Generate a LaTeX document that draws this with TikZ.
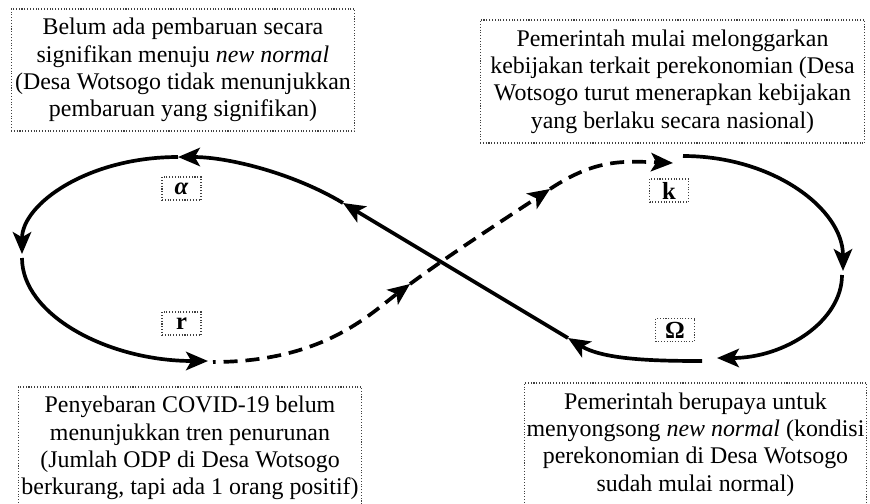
\documentclass[tikz,border=0pt]{standalone}
\usepackage{fontspec}
\setmainfont{Liberation Serif}
\usetikzlibrary{arrows.meta}
\tikzset{
  box/.style={draw=black!75, densely dotted, line width=0.6pt, align=center, inner sep=0pt,
    font=\fontsize{13.6}{15.6}\selectfont},
  lbl/.style={draw=black!75, densely dotted, line width=0.6pt, inner sep=0pt,
    minimum width=0.78cm, minimum height=0.46cm, font=\fontsize{14}{15}\selectfont\bfseries},
  lane/.style={line width=2.1pt, -{Stealth[length=12.5pt,width=10.5pt,inset=3pt]}},
  lanedash/.style={lane, dash pattern=on 8pt off 4.5pt}
}
\begin{document}
\begin{tikzpicture}[x=0.02cm, y=-0.02cm]
    \useasboundingbox (0,0) rectangle (870,504);
    \clip (0,0) rectangle (870,504);
    % text boxes
    \node[box, minimum width=6.88cm, minimum height=2.44cm] (belum) at (183,70)
      {Belum ada pembaruan secara\\ signifikan menuju \textit{new normal}\\
       (Desa Wotsogo tidak menunjukkan\\ pembaruan yang signifikan)};
    \node[box, minimum width=7.7cm, minimum height=2.46cm] (longgar) at (672.5,81.5)
      {Pemerintah mulai melonggarkan\\ kebijakan terkait perekonomian (Desa\\
       Wotsogo turut menerapkan kebijakan\\ yang berlaku secara nasional)};
    \node[box, minimum width=6.88cm, minimum height=2.44cm] (sebar) at (190,448)
      {Penyebaran COVID-19 belum\\ menunjukkan tren penurunan\\
       (Jumlah ODP di Desa Wotsogo\\ berkurang, tapi ada 1 orang positif)};
    \node[box, minimum width=6.86cm, minimum height=2.46cm] (songsong) at (695.5,444.5)
      {Pemerintah berupaya untuk\\ menyongsong \textit{new normal} (kondisi\\
       perekonomian di Desa Wotsogo\\ sudah mulai normal)};
    % phase labels
    \foreach \n/\p/\t in {alpha/{181.5,188.5}/\textit{α}, rr/{181.5,323.5}/r,
                          kk/{669,190.5}/k, omega/{675,330}/Ω}
      \node[lbl] (\n) at (\p) {\t};
    % cycle points
    \coordinate (w0) at (702,361);
    \coordinate (w1) at (568,338);
    \coordinate (w2) at (343,203);
    \coordinate (w3) at (178,157);
    \coordinate (w4) at (22,254);
    \coordinate (w5) at (22,258);
    \coordinate (w6) at (208,361);
    \coordinate (d0) at (213,362);
    \coordinate (d1) at (410,284);
    \coordinate (d2) at (550,189);
    \coordinate (d3) at (673,163);
    \coordinate (k0) at (683,156);
    \coordinate (k1) at (843,271);
    \coordinate (k2) at (842,275);
    \coordinate (k3) at (717,358);
    % dashed part first, solid crosses over it
    \draw[lanedash, dash phase=6.5pt] (d0) .. controls +(110,0) and +(-40,30) .. (d1);
    \draw[lanedash] (d1) .. controls +(45,-33) and +(-45,30) .. (d2);
    \draw[lanedash] (d2) .. controls +(45,-30) and +(-50,-2) .. (d3);
    \draw[lane] (w0) .. controls +(-45,0) and +(36,22) .. (w1);
    \draw[lane] (w1) -- (w2);
    \draw[lane] (w2) .. controls +(-50,-30) and +(50,0) .. (w3);
    \draw[lane] (w3) .. controls +(-90,0) and +(0,-50) .. (w4);
    \draw[lane] (w5) .. controls +(0,57) and +(-100,0) .. (w6);
    \draw[lane] (k0) .. controls +(90,0) and +(0,-62) .. (k1);
    \draw[lane] (k2) .. controls +(0,46) and +(68,0) .. (k3);
\end{tikzpicture}
\end{document}
